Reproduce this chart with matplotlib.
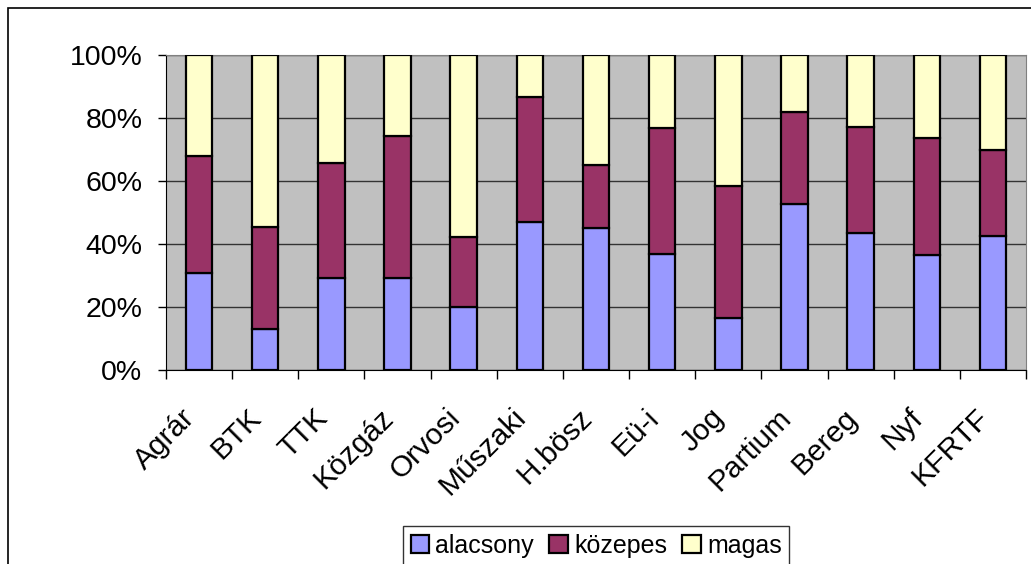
import numpy as np
import matplotlib.pyplot as plt
from matplotlib.patches import Rectangle
from matplotlib.ticker import FixedLocator, FuncFormatter
from matplotlib.transforms import ScaledTranslation

plt.rcParams['font.family'] = ['Liberation Sans', 'DejaVu Sans']

categories = ['Agrár', 'BTK', 'TTK', 'Közgáz', 'Orvosi', 'Műszaki', 'H.bösz',
              'Eü-i', 'Jog', 'Partium', 'Bereg', 'Nyf', 'KFRTF']
# percentages
alacsony = [30.8, 12.9, 29.1, 29.1, 20.1, 47.1, 45.0, 36.7, 16.6, 52.7, 43.6, 36.4, 42.5]
kozepes = [37.1, 32.4, 36.5, 45.2, 22.2, 39.7, 20.1, 40.0, 41.8, 29.1, 33.4, 37.1, 27.5]
magas = [100 - a - k for a, k in zip(alacsony, kozepes)]

series = [('alacsony', alacsony, '#9999FF'),
          ('közepes', kozepes, '#993366'),
          ('magas', magas, '#FFFFCC')]

fig = plt.figure(figsize=(10.31, 5.64), dpi=100)
ax = fig.add_axes([166 / 1031, 1 - 370 / 564, 860 / 1031, 315 / 564])

# outer chart border, cut off at right and bottom like the original
fig.patches.append(Rectangle((8 / 1031, -0.1), 1.2, 1 - 8 / 564 + 0.1,
                             transform=fig.transFigure, fill=False,
                             edgecolor='black', linewidth=1.2))

x = np.arange(len(categories))
bottom = np.zeros(len(categories))
for name, vals, col in series:
    ax.bar(x, vals, 0.4, bottom=bottom, color=col, edgecolor='black',
           linewidth=1.6, label=name, zorder=3)
    bottom += np.array(vals)

ax.set_facecolor('#C0C0C0')
ax.set_xlim(-0.5, len(categories) - 0.5)
ax.set_ylim(0, 100)
ax.set_yticks(np.arange(0, 101, 20))
ax.yaxis.set_major_formatter(FuncFormatter(lambda v, p: f'{int(v)}%'))
ax.yaxis.grid(True, color='#333333', linewidth=1.0, zorder=1)

ax.xaxis.set_major_locator(FixedLocator(np.arange(-0.5, len(categories), 1)))
ax.xaxis.set_major_formatter(FuncFormatter(lambda v, p: ''))
ax.xaxis.set_minor_locator(FixedLocator(x))
ax.set_xticklabels(categories, minor=True, rotation=45, ha='right', va='top',
                   rotation_mode='anchor', fontsize=21.5)
ax.tick_params(axis='x', which='minor', length=0, pad=24)
ax.tick_params(axis='x', which='major', length=6.5, width=1, direction='out')
ax.tick_params(axis='y', length=6, width=1, direction='out', labelsize=20.5, pad=11)
shift = ScaledTranslation(-18 / 100, 0, fig.dpi_scale_trans)
for lab in ax.get_xticklabels(minor=True):
    lab.set_transform(lab.get_transform() + shift)

for s in ['top', 'right']:
    ax.spines[s].set_color('#808080')
for s in ['left', 'bottom']:
    ax.spines[s].set_color('black')

leg = fig.legend(loc='upper left', bbox_to_anchor=(403 / 1031, 1 - 526 / 564),
                 ncol=3, fontsize=18, frameon=True, fancybox=False,
                 edgecolor='black', handlelength=0.75, handleheight=0.75,
                 handletextpad=0.25, columnspacing=0.6, borderpad=0.3,
                 borderaxespad=0)
leg.get_frame().set_linewidth(1.0)

fig.savefig('out.png', dpi=100)
